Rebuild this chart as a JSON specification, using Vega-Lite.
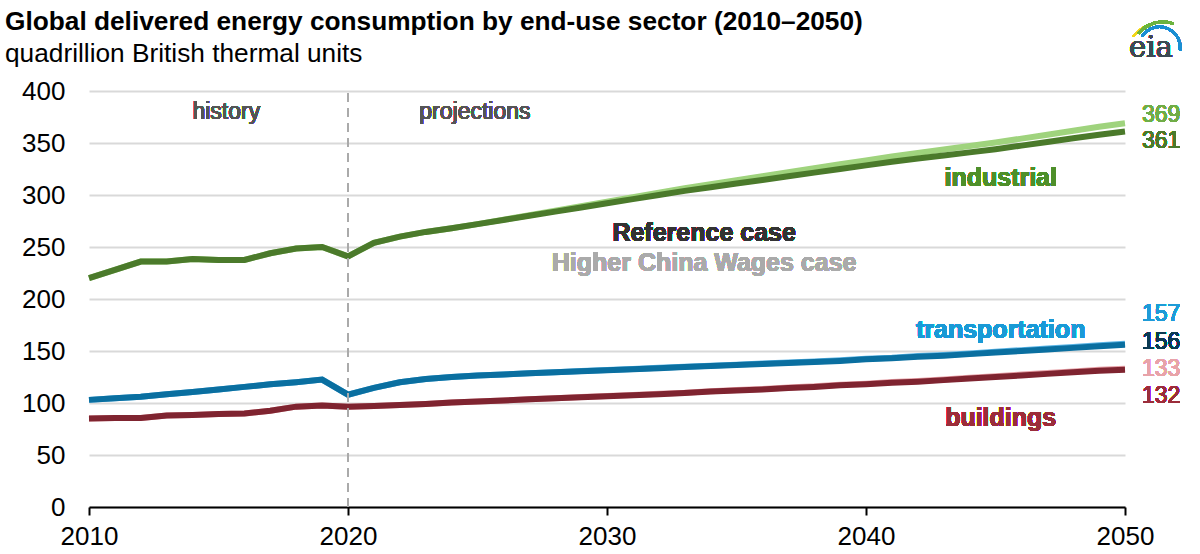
{
  "$schema": "https://vega.github.io/schema/vega-lite/v6.json",
  "autosize": "none",
  "width": 1036,
  "height": 416,
  "padding": {"left": 89, "top": 91, "right": 75, "bottom": 47},
  "background": "white",
  "config": {
    "font": "Liberation Sans",
    "view": {"stroke": null},
    "title": {"font": "Liberation Sans", "subtitleFont": "Liberation Sans"}
  },
  "title": {
    "text": "Global delivered energy consumption by end-use sector (2010–2050)",
    "subtitle": "quadrillion British thermal units",
    "anchor": "start",
    "frame": "group",
    "dx": -84,
    "offset": -47,
    "fontSize": 26.25,
    "fontWeight": "bold",
    "color": "#000000",
    "subtitleFontSize": 26.25,
    "subtitleColor": "#000000",
    "subtitlePadding": 6
  },
  "data": {
    "values": [
      {"year": 2010, "sector": "industrial", "ref": 220, "high": 220},
      {"year": 2011, "sector": "industrial", "ref": 228, "high": 228},
      {"year": 2012, "sector": "industrial", "ref": 236, "high": 236},
      {"year": 2013, "sector": "industrial", "ref": 236, "high": 236},
      {"year": 2014, "sector": "industrial", "ref": 238.5, "high": 238.5},
      {"year": 2015, "sector": "industrial", "ref": 237.5, "high": 237.5},
      {"year": 2016, "sector": "industrial", "ref": 237.5, "high": 237.5},
      {"year": 2017, "sector": "industrial", "ref": 244, "high": 244},
      {"year": 2018, "sector": "industrial", "ref": 248.5, "high": 248.5},
      {"year": 2019, "sector": "industrial", "ref": 250, "high": 250},
      {"year": 2020, "sector": "industrial", "ref": 241, "high": 241},
      {"year": 2021, "sector": "industrial", "ref": 254, "high": 254},
      {"year": 2022, "sector": "industrial", "ref": 260, "high": 260},
      {"year": 2023, "sector": "industrial", "ref": 264.5, "high": 264.5},
      {"year": 2024, "sector": "industrial", "ref": 268, "high": 268},
      {"year": 2025, "sector": "industrial", "ref": 272, "high": 272},
      {"year": 2026, "sector": "industrial", "ref": 276, "high": 276.3},
      {"year": 2027, "sector": "industrial", "ref": 280, "high": 280.6},
      {"year": 2028, "sector": "industrial", "ref": 284, "high": 285},
      {"year": 2029, "sector": "industrial", "ref": 288, "high": 289.3},
      {"year": 2030, "sector": "industrial", "ref": 292, "high": 293.6},
      {"year": 2031, "sector": "industrial", "ref": 296, "high": 297.9},
      {"year": 2032, "sector": "industrial", "ref": 300, "high": 302.2},
      {"year": 2033, "sector": "industrial", "ref": 304, "high": 306.6},
      {"year": 2034, "sector": "industrial", "ref": 307.5, "high": 310.4},
      {"year": 2035, "sector": "industrial", "ref": 311, "high": 314.2},
      {"year": 2036, "sector": "industrial", "ref": 314.5, "high": 318},
      {"year": 2037, "sector": "industrial", "ref": 318, "high": 321.8},
      {"year": 2038, "sector": "industrial", "ref": 321.5, "high": 325.7},
      {"year": 2039, "sector": "industrial", "ref": 325, "high": 329.5},
      {"year": 2040, "sector": "industrial", "ref": 328.5, "high": 333.3},
      {"year": 2041, "sector": "industrial", "ref": 332, "high": 337.1},
      {"year": 2042, "sector": "industrial", "ref": 335, "high": 340.4},
      {"year": 2043, "sector": "industrial", "ref": 338, "high": 343.8},
      {"year": 2044, "sector": "industrial", "ref": 341, "high": 347.1},
      {"year": 2045, "sector": "industrial", "ref": 344, "high": 350.4},
      {"year": 2046, "sector": "industrial", "ref": 347.5, "high": 354.2},
      {"year": 2047, "sector": "industrial", "ref": 351, "high": 358},
      {"year": 2048, "sector": "industrial", "ref": 354.5, "high": 361.8},
      {"year": 2049, "sector": "industrial", "ref": 358, "high": 365.7},
      {"year": 2050, "sector": "industrial", "ref": 361, "high": 369},
      {"year": 2010, "sector": "transportation", "ref": 103, "high": 103},
      {"year": 2011, "sector": "transportation", "ref": 104.5, "high": 104.5},
      {"year": 2012, "sector": "transportation", "ref": 106, "high": 106},
      {"year": 2013, "sector": "transportation", "ref": 108.5, "high": 108.5},
      {"year": 2014, "sector": "transportation", "ref": 110.5, "high": 110.5},
      {"year": 2015, "sector": "transportation", "ref": 113, "high": 113},
      {"year": 2016, "sector": "transportation", "ref": 115.5, "high": 115.5},
      {"year": 2017, "sector": "transportation", "ref": 118, "high": 118},
      {"year": 2018, "sector": "transportation", "ref": 120, "high": 120},
      {"year": 2019, "sector": "transportation", "ref": 122.5, "high": 122.5},
      {"year": 2020, "sector": "transportation", "ref": 108, "high": 108},
      {"year": 2021, "sector": "transportation", "ref": 114.5, "high": 114.5},
      {"year": 2022, "sector": "transportation", "ref": 120, "high": 120},
      {"year": 2023, "sector": "transportation", "ref": 123, "high": 123},
      {"year": 2024, "sector": "transportation", "ref": 125, "high": 125},
      {"year": 2025, "sector": "transportation", "ref": 126.5, "high": 126.5},
      {"year": 2026, "sector": "transportation", "ref": 127.5, "high": 127.5},
      {"year": 2027, "sector": "transportation", "ref": 128.5, "high": 128.6},
      {"year": 2028, "sector": "transportation", "ref": 129.5, "high": 129.6},
      {"year": 2029, "sector": "transportation", "ref": 130.5, "high": 130.7},
      {"year": 2030, "sector": "transportation", "ref": 131.5, "high": 131.7},
      {"year": 2031, "sector": "transportation", "ref": 132.5, "high": 132.7},
      {"year": 2032, "sector": "transportation", "ref": 133.5, "high": 133.8},
      {"year": 2033, "sector": "transportation", "ref": 134.5, "high": 134.8},
      {"year": 2034, "sector": "transportation", "ref": 135.5, "high": 135.9},
      {"year": 2035, "sector": "transportation", "ref": 136.5, "high": 136.9},
      {"year": 2036, "sector": "transportation", "ref": 137.5, "high": 137.9},
      {"year": 2037, "sector": "transportation", "ref": 138.5, "high": 139},
      {"year": 2038, "sector": "transportation", "ref": 139.5, "high": 140},
      {"year": 2039, "sector": "transportation", "ref": 140.5, "high": 141.1},
      {"year": 2040, "sector": "transportation", "ref": 142, "high": 142.6},
      {"year": 2041, "sector": "transportation", "ref": 143, "high": 143.6},
      {"year": 2042, "sector": "transportation", "ref": 144.5, "high": 145.2},
      {"year": 2043, "sector": "transportation", "ref": 145.5, "high": 146.2},
      {"year": 2044, "sector": "transportation", "ref": 147, "high": 147.7},
      {"year": 2045, "sector": "transportation", "ref": 148.5, "high": 149.3},
      {"year": 2046, "sector": "transportation", "ref": 150, "high": 150.8},
      {"year": 2047, "sector": "transportation", "ref": 151.5, "high": 152.4},
      {"year": 2048, "sector": "transportation", "ref": 153, "high": 153.9},
      {"year": 2049, "sector": "transportation", "ref": 154.5, "high": 155.5},
      {"year": 2050, "sector": "transportation", "ref": 156, "high": 157},
      {"year": 2010, "sector": "buildings", "ref": 85, "high": 85},
      {"year": 2011, "sector": "buildings", "ref": 85.5, "high": 85.5},
      {"year": 2012, "sector": "buildings", "ref": 85.5, "high": 85.5},
      {"year": 2013, "sector": "buildings", "ref": 88, "high": 88},
      {"year": 2014, "sector": "buildings", "ref": 88.5, "high": 88.5},
      {"year": 2015, "sector": "buildings", "ref": 89.5, "high": 89.5},
      {"year": 2016, "sector": "buildings", "ref": 90, "high": 90},
      {"year": 2017, "sector": "buildings", "ref": 92.5, "high": 92.5},
      {"year": 2018, "sector": "buildings", "ref": 96.5, "high": 96.5},
      {"year": 2019, "sector": "buildings", "ref": 97.5, "high": 97.5},
      {"year": 2020, "sector": "buildings", "ref": 96.5, "high": 96.5},
      {"year": 2021, "sector": "buildings", "ref": 97, "high": 97},
      {"year": 2022, "sector": "buildings", "ref": 98, "high": 98},
      {"year": 2023, "sector": "buildings", "ref": 99, "high": 99},
      {"year": 2024, "sector": "buildings", "ref": 100.5, "high": 100.5},
      {"year": 2025, "sector": "buildings", "ref": 101.5, "high": 101.5},
      {"year": 2026, "sector": "buildings", "ref": 102.5, "high": 102.5},
      {"year": 2027, "sector": "buildings", "ref": 103.5, "high": 103.6},
      {"year": 2028, "sector": "buildings", "ref": 104.5, "high": 104.6},
      {"year": 2029, "sector": "buildings", "ref": 105.5, "high": 105.7},
      {"year": 2030, "sector": "buildings", "ref": 106.5, "high": 106.7},
      {"year": 2031, "sector": "buildings", "ref": 107.5, "high": 107.7},
      {"year": 2032, "sector": "buildings", "ref": 108.5, "high": 108.8},
      {"year": 2033, "sector": "buildings", "ref": 109.5, "high": 109.8},
      {"year": 2034, "sector": "buildings", "ref": 111, "high": 111.4},
      {"year": 2035, "sector": "buildings", "ref": 112, "high": 112.4},
      {"year": 2036, "sector": "buildings", "ref": 113, "high": 113.4},
      {"year": 2037, "sector": "buildings", "ref": 114.5, "high": 115},
      {"year": 2038, "sector": "buildings", "ref": 115.5, "high": 116},
      {"year": 2039, "sector": "buildings", "ref": 117, "high": 117.6},
      {"year": 2040, "sector": "buildings", "ref": 118, "high": 118.6},
      {"year": 2041, "sector": "buildings", "ref": 119.5, "high": 120.1},
      {"year": 2042, "sector": "buildings", "ref": 120.5, "high": 121.2},
      {"year": 2043, "sector": "buildings", "ref": 122, "high": 122.7},
      {"year": 2044, "sector": "buildings", "ref": 123.5, "high": 124.2},
      {"year": 2045, "sector": "buildings", "ref": 125, "high": 125.8},
      {"year": 2046, "sector": "buildings", "ref": 126.5, "high": 127.3},
      {"year": 2047, "sector": "buildings", "ref": 128, "high": 128.9},
      {"year": 2048, "sector": "buildings", "ref": 129.5, "high": 130.4},
      {"year": 2049, "sector": "buildings", "ref": 131, "high": 132},
      {"year": 2050, "sector": "buildings", "ref": 132, "high": 133}
    ]
  },
  "layer": [
    {
      "mark": {"type": "line", "strokeWidth": 6, "strokeCap": "butt", "strokeJoin": "miter"},
      "encoding": {
        "x": {
          "field": "year", "type": "quantitative",
          "scale": {"domain": [2010, 2050], "nice": false, "zero": false},
          "axis": {
            "values": [2010, 2020, 2030, 2040, 2050], "format": "d", "title": null,
            "grid": false, "domainColor": "#000000", "domainWidth": 2,
            "tickColor": "#000000", "tickWidth": 2, "tickSize": 8,
            "labelFontSize": 26, "labelColor": "#000000", "labelPadding": 8,
            "labelFlush": false, "labelOverlap": false,
            "labelFont": "Liberation Sans"
          }
        },
        "y": {
          "field": "high", "type": "quantitative",
          "scale": {"domain": [0, 400], "nice": false},
          "axis": {
            "values": [0, 50, 100, 150, 200, 250, 300, 350, 400], "title": null,
            "domain": false, "ticks": false, "gridColor": "#d9d9d9", "gridWidth": 2,
            "labelFontSize": 26, "labelColor": "#000000", "labelPadding": 24,
            "labelFont": "Liberation Sans"
          }
        },
        "detail": {"field": "sector"},
        "color": {
          "field": "sector", "type": "nominal", "legend": null,
          "scale": {"domain": ["industrial", "transportation", "buildings"], "range": ["#9fd37d", "#5ab4e5", "#e6a0a6"]}
        }
      }
    },
    {
      "mark": {"type": "line", "strokeWidth": 6, "strokeCap": "butt", "strokeJoin": "miter"},
      "encoding": {
        "x": {"field": "year", "type": "quantitative"},
        "y": {"field": "ref", "type": "quantitative"},
        "detail": {"field": "sector"},
        "stroke": {
          "field": "sector", "type": "nominal", "legend": null,
          "scale": {"domain": ["industrial", "transportation", "buildings"], "range": ["#4b7a2b", "#0a6fa0", "#7f2430"]}
        }
      }
    },
    {
      "mark": {"type": "rule", "color": "#aaaaaa", "strokeWidth": 1.5, "strokeDash": [9, 6]},
      "encoding": {"x": {"datum": 2020}, "y": {"datum": 0}, "y2": {"datum": 400}}
    },
    {
      "mark": {"type": "text", "fontSize": 23, "color": "#555555", "align": "center", "baseline": "middle"},
      "encoding": {"x": {"datum": 2015.3}, "y": {"datum": 380}, "text": {"value": "history"}}
    },
    {
      "mark": {"type": "text", "fontSize": 23, "color": "#555555", "align": "center", "baseline": "middle"},
      "encoding": {"x": {"datum": 2024.9}, "y": {"datum": 380}, "text": {"value": "projections"}}
    },
    {
      "mark": {"type": "text", "fontSize": 25, "fontWeight": "bold", "color": "#4e8f2a", "align": "center", "baseline": "middle"},
      "encoding": {"x": {"datum": 2045.2}, "y": {"datum": 316}, "text": {"value": "industrial"}}
    },
    {
      "mark": {"type": "text", "fontSize": 25, "fontWeight": "bold", "color": "#333333", "align": "center", "baseline": "middle"},
      "encoding": {"x": {"datum": 2033.75}, "y": {"datum": 263.5}, "text": {"value": "Reference case"}}
    },
    {
      "mark": {"type": "text", "fontSize": 25, "fontWeight": "bold", "color": "#aaaaaa", "align": "center", "baseline": "middle"},
      "encoding": {"x": {"datum": 2033.75}, "y": {"datum": 234.5}, "text": {"value": "Higher China Wages case"}}
    },
    {
      "mark": {"type": "text", "fontSize": 25, "fontWeight": "bold", "color": "#1a9ad6", "align": "center", "baseline": "middle"},
      "encoding": {"x": {"datum": 2045.2}, "y": {"datum": 170}, "text": {"value": "transportation"}}
    },
    {
      "mark": {"type": "text", "fontSize": 25, "fontWeight": "bold", "color": "#9b2d3a", "align": "center", "baseline": "middle"},
      "encoding": {"x": {"datum": 2045.2}, "y": {"datum": 85.5}, "text": {"value": "buildings"}}
    },
    {
      "mark": {"type": "text", "fontSize": 23, "color": "#70ad47", "align": "left", "baseline": "middle", "dx": 17},
      "encoding": {"x": {"datum": 2050}, "y": {"datum": 377}, "text": {"value": "369"}}
    },
    {
      "mark": {"type": "text", "fontSize": 23, "color": "#4b7a2b", "align": "left", "baseline": "middle", "dx": 17},
      "encoding": {"x": {"datum": 2050}, "y": {"datum": 352}, "text": {"value": "361"}}
    },
    {
      "mark": {"type": "text", "fontSize": 23, "color": "#1e9bd7", "align": "left", "baseline": "middle", "dx": 17},
      "encoding": {"x": {"datum": 2050}, "y": {"datum": 185.5}, "text": {"value": "157"}}
    },
    {
      "mark": {"type": "text", "fontSize": 23, "color": "#0b3a52", "align": "left", "baseline": "middle", "dx": 17},
      "encoding": {"x": {"datum": 2050}, "y": {"datum": 159}, "text": {"value": "156"}}
    },
    {
      "mark": {"type": "text", "fontSize": 23, "color": "#e8a3a8", "align": "left", "baseline": "middle", "dx": 17},
      "encoding": {"x": {"datum": 2050}, "y": {"datum": 133}, "text": {"value": "133"}}
    },
    {
      "mark": {"type": "text", "fontSize": 23, "color": "#9b2d3a", "align": "left", "baseline": "middle", "dx": 17},
      "encoding": {"x": {"datum": 2050}, "y": {"datum": 106.5}, "text": {"value": "132"}}
    },
    {
      "mark": {"type": "arc", "color": "#f2d51c", "radius": 34, "radius2": 32.5, "theta": -0.95, "theta2": -0.2},
      "encoding": {"x": {"datum": 2051.351}, "y": {"datum": 433.65}}
    },
    {
      "mark": {"type": "arc", "color": "#6cb33f", "radius": 32.5, "radius2": 30, "theta": -0.9, "theta2": 0.35},
      "encoding": {"x": {"datum": 2051.467}, "y": {"datum": 436.54}}
    },
    {
      "mark": {"type": "arc", "color": "#1b8fd2", "radius": 22, "radius2": 19.5, "theta": -1.0, "theta2": 1.69},
      "encoding": {"x": {"datum": 2051.332}, "y": {"datum": 441.73}}
    },
    {
      "mark": {"type": "text", "fontSize": 29, "font": "DejaVu Serif", "color": "#3d4a54", "align": "center", "baseline": "alphabetic"},
      "encoding": {"x": {"datum": 2051.0}, "y": {"datum": 432.7}, "text": {"value": "eia"}}
    }
  ]
}
